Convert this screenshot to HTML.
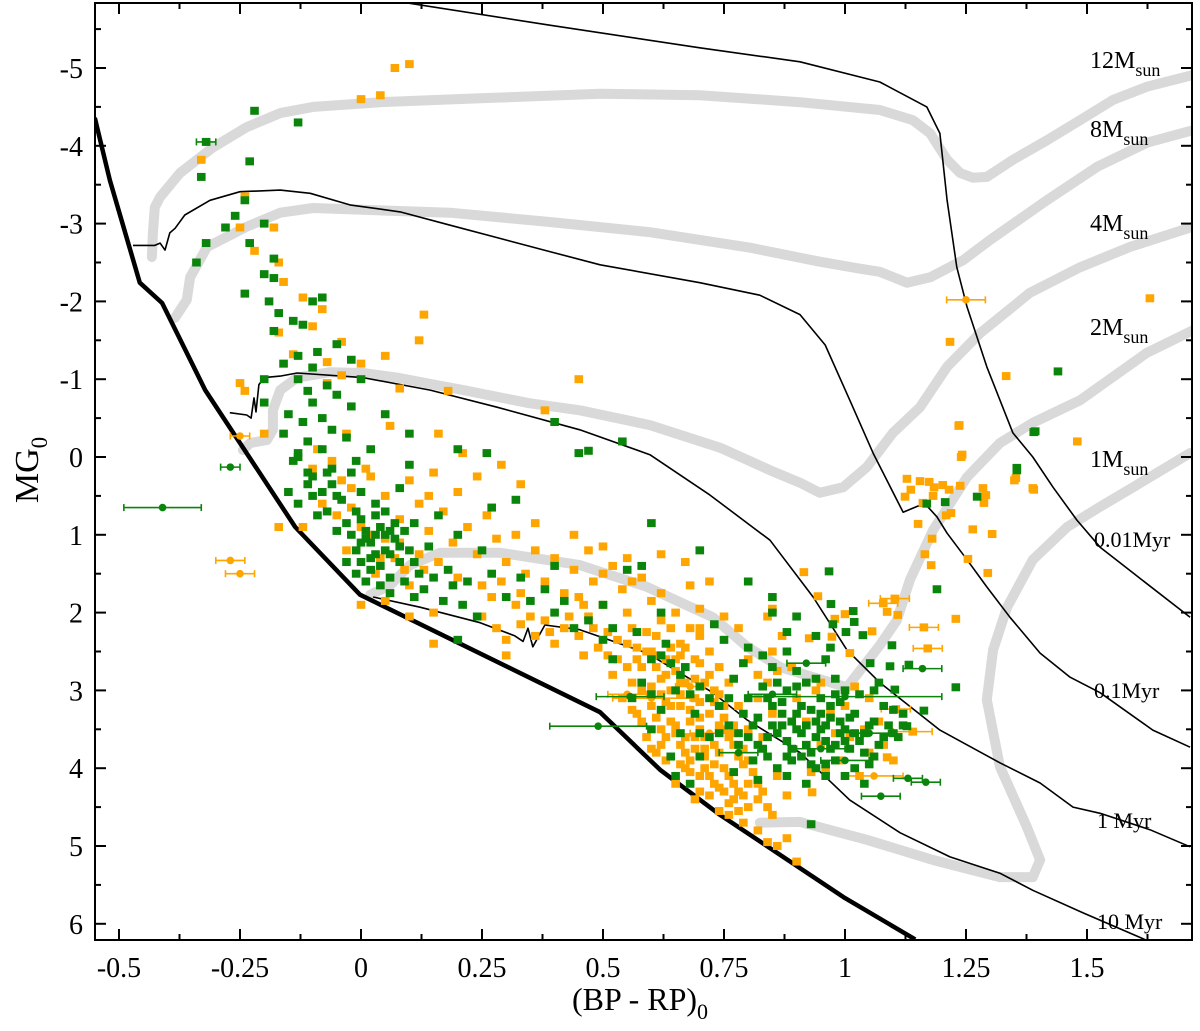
<!DOCTYPE html>
<html><head><meta charset="utf-8"><style>
html,body{margin:0;padding:0;background:#fff;}
svg{display:block;font-family:"Liberation Serif",serif;}
</style></head><body>
<svg id="chart" width="1200" height="1031" viewBox="0 0 1200 1031" xmlns="http://www.w3.org/2000/svg">
<defs><clipPath id="pc"><rect x="95" y="3" width="1097" height="937"/></clipPath></defs>
<g id="tracks" clip-path="url(#pc)"></g>
<g id="isos" clip-path="url(#pc)"></g>
<g id="pts" clip-path="url(#pc)"></g>
<g id="axes"></g>
<g id="labels" font-size="24">
<text x="1090" y="68">12M<tspan font-size="18" dy="8">sun</tspan></text>
<text x="1090" y="137">8M<tspan font-size="18" dy="8">sun</tspan></text>
<text x="1090" y="231">4M<tspan font-size="18" dy="8">sun</tspan></text>
<text x="1090" y="335">2M<tspan font-size="18" dy="8">sun</tspan></text>
<text x="1090" y="467">1M<tspan font-size="18" dy="8">sun</tspan></text>
<text x="1094" y="547" font-size="22">0.01Myr</text>
<text x="1094" y="698" font-size="22">0.1Myr</text>
<text x="1097" y="828" font-size="22">1 Myr</text>
<text x="1097" y="929" font-size="22">10 Myr</text>
</g>
<text x="640" y="1010" font-size="32" text-anchor="middle">(BP - RP)<tspan font-size="22" dy="9">0</tspan></text>
<text transform="translate(38,470) rotate(-90)" font-size="34" text-anchor="middle">MG<tspan font-size="23" dy="9">0</tspan></text>
</svg>
<script>
const xTicks=[-0.5,-0.25,0,0.25,0.5,0.75,1,1.25,1.5];
const xTickLabels=["-0.5","-0.25","0","0.25","0.5","0.75","1","1.25","1.5"];
const yTicks=[-5,-4,-3,-2,-1,0,1,2,3,4,5,6];
const yTickLabels=["-5","-4","-3","-2","-1","0","1","2","3","4","5","6"];
const zams=[[-0.55,-4.36],[-0.519,-3.56],[-0.457,-2.24],[-0.411,-1.98],[-0.322,-0.86],[-0.136,0.9],[-0.002,1.77],[0.494,3.28],[0.618,4.02],[0.742,4.6],[1.0,5.67],[1.145,6.2]];
const iso001=[[0.091,-5.84],[0.39,-5.55],[0.70,-5.26],[0.907,-5.08],[1.072,-4.82],[1.169,-4.5],[1.196,-4.16],[1.211,-3.3],[1.231,-2.44],[1.252,-1.93],[1.293,-1.16],[1.347,-0.31],[1.388,0],[1.43,0.39],[1.479,0.81],[1.527,1.16],[1.595,1.49],[1.713,2.06]];
const iso01=[[-0.471,-2.72],[-0.426,-2.72],[-0.415,-2.75],[-0.405,-2.66],[-0.395,-2.88],[-0.384,-2.94],[-0.364,-3.11],[-0.312,-3.3],[-0.25,-3.41],[-0.167,-3.43],[-0.105,-3.39],[-0.023,-3.24],[0.081,-3.15],[0.184,-2.98],[0.287,-2.81],[0.39,-2.64],[0.494,-2.47],[0.70,-2.24],[0.824,-2.08],[0.907,-1.83],[0.959,-1.44],[1.01,-0.73],[1.058,-0.05],[1.12,0.71],[1.151,0.63],[1.171,0.64],[1.19,0.77],[1.211,0.98],[1.252,1.32],[1.293,1.67],[1.341,2.06],[1.403,2.52],[1.465,2.83],[1.527,3.03],[1.636,3.51],[1.713,3.73]];
const iso1=[[-0.271,-0.57],[-0.236,-0.54],[-0.227,-0.5],[-0.221,-0.76],[-0.217,-0.58],[-0.211,-0.93],[-0.2,-1.02],[-0.167,-1.04],[-0.132,-1.08],[0.004,-1.02],[0.143,-0.86],[0.281,-0.64],[0.452,-0.35],[0.597,-0.03],[0.721,0.49],[0.845,1.07],[0.934,1.8],[1.004,2.48],[1.072,2.9],[1.196,3.51],[1.32,3.93],[1.403,4.19],[1.471,4.5],[1.527,4.58],[1.63,4.79],[1.713,5.01]];
const iso10=[[0.025,1.8],[0.122,1.93],[0.246,2.13],[0.318,2.3],[0.335,2.37],[0.345,2.2],[0.355,2.44],[0.38,2.16],[0.452,2.22],[0.591,2.52],[0.727,3.03],[0.798,3.38],[0.907,3.8],[1.01,4.41],[1.114,4.83],[1.217,5.14],[1.32,5.35],[1.388,5.57],[1.492,5.86],[1.63,6.23]];
const track12=[[-0.432,-2.57],[-0.43,-2.88],[-0.426,-3.21],[-0.415,-3.34],[-0.374,-3.65],[-0.306,-3.98],[-0.236,-4.24],[-0.167,-4.42],[-0.099,-4.5],[0.039,-4.56],[0.246,-4.61],[0.494,-4.67],[0.70,-4.65],[0.907,-4.56],[1.072,-4.46],[1.14,-4.33],[1.176,-4.16],[1.211,-3.82],[1.238,-3.65],[1.264,-3.59],[1.293,-3.6],[1.347,-3.82],[1.417,-4.07],[1.486,-4.33],[1.554,-4.59],[1.624,-4.76],[1.719,-4.91]];
const track8=[[-0.384,-1.79],[-0.36,-2.02],[-0.353,-2.31],[-0.318,-2.7],[-0.236,-2.96],[-0.167,-3.14],[-0.099,-3.2],[0.039,-3.17],[0.184,-3.14],[0.39,-3.02],[0.597,-2.89],[0.804,-2.69],[0.948,-2.51],[1.031,-2.42],[1.072,-2.38],[1.128,-2.24],[1.176,-2.31],[1.244,-2.53],[1.3,-2.79],[1.417,-3.3],[1.521,-3.73],[1.624,-4.04],[1.719,-4.2]];
const track4=[[-0.244,-0.09],[-0.229,-0.18],[-0.194,-0.22],[-0.182,-0.35],[-0.182,-0.6],[-0.167,-0.86],[-0.132,-1.02],[-0.064,-1.09],[0.004,-1.08],[0.074,-1.02],[0.211,-0.86],[0.349,-0.69],[0.452,-0.6],[0.597,-0.41],[0.742,-0.12],[0.845,0.17],[0.907,0.33],[0.948,0.46],[0.996,0.39],[1.045,0.13],[1.099,-0.31],[1.155,-0.64],[1.211,-1.16],[1.279,-1.59],[1.382,-2.11],[1.486,-2.44],[1.589,-2.7],[1.719,-2.96]];
const track2=[[0.019,1.77],[0.06,1.65],[0.101,1.39],[0.163,1.23],[0.287,1.23],[0.452,1.39],[0.591,1.67],[0.727,2.06],[0.798,2.44],[0.866,2.7],[0.934,2.83],[1.004,2.96],[1.072,2.42],[1.107,2.1],[1.134,1.58],[1.182,0.94],[1.252,0.26],[1.32,-0.18],[1.388,-0.44],[1.486,-0.73],[1.624,-1.34],[1.719,-1.63]];
const track1=[[0.824,4.7],[0.907,4.69],[1.045,4.92],[1.182,5.18],[1.32,5.4],[1.388,5.4],[1.403,5.18],[1.376,4.76],[1.32,3.98],[1.293,3.12],[1.306,2.48],[1.335,1.93],[1.388,1.32],[1.459,0.9],[1.527,0.64],[1.595,0.39],[1.713,-0.05]];
const orangeStars=[[0.07,-5.0],[0.1,-5.05],[0.0,-4.6],[0.04,-4.65],[-0.33,-3.82],[-0.24,-3.35],[-0.25,-2.95],[-0.22,-2.65],[-0.18,-2.95],[-0.17,-2.5],[-0.16,-2.25],[-0.12,-2.05],[-0.08,-1.9],[-0.1,-1.68],[-0.17,-1.6],[-0.04,-1.48],[0.13,-1.83],[0.12,-1.5],[-0.14,-1.32],[-0.07,-1.22],[0.0,-1.2],[0.05,-1.3],[-0.25,-0.95],[-0.24,-0.85],[-0.07,-0.95],[-0.04,-1.05],[0.08,-0.88],[0.18,-0.85],[0.38,-0.6],[0.45,-1.0],[1.63,-2.04],[1.217,-1.48],[1.333,-1.04],[1.235,-0.4],[1.48,-0.2],[1.24,0.0],[1.35,0.3],[1.39,0.42],
[1.128,0.28],[1.155,0.31],[1.174,0.32],[1.184,0.39],[1.202,0.36],[1.215,0.42],[1.238,0.37],[1.285,0.40],[1.291,0.49],[1.287,0.59],[1.136,0.42],[1.124,0.51],[1.182,0.50],[1.161,0.59],[1.209,0.75],[1.219,0.72],[1.151,0.86],[1.18,1.05],[1.165,1.25],[1.178,1.39],[1.264,0.93],[1.304,0.99],[1.254,1.31],[1.295,1.49],[1.353,0.27],[1.388,0.40],[1.236,-0.41],[1.242,-0.03],
[1.079,1.88],[1.103,1.82],[1.087,1.99],[1.109,2.03],[1.056,2.24],[1.163,2.19],[1.171,2.46],[1.229,2.08],[1.0,2.02],[0.979,2.08],[0.944,1.79],[0.915,1.48],[0.926,2.33],[0.973,2.31],[1.01,2.52],[1.105,3.24],[1.14,3.53],[1.087,3.86],[0.932,4.31],
[0.25,2.05],[0.28,2.2],[0.3,2.35],[0.33,2.15],[0.36,2.3],[0.38,2.1],[0.4,2.4],[0.42,2.2],[0.45,2.3],[0.47,2.05],[0.49,2.45],[0.51,2.25],[0.53,2.6],[0.55,2.4],[0.56,2.2],[0.58,2.7],[0.6,2.5],[0.61,2.3],[0.62,2.85],[0.63,2.6],[0.64,3.0],[0.65,2.75],[0.66,3.2],[0.67,2.9],[0.68,3.4],[0.69,3.1],[0.7,2.65],[0.71,3.6],[0.72,3.3],[0.73,3.0],[0.74,3.8],[0.75,3.5],[0.76,4.1],[0.77,3.7],[0.78,4.3],[0.79,3.95],[0.8,4.5],[0.6,3.2],[0.62,3.5],[0.64,3.4],[0.66,3.7],[0.68,3.9],[0.7,4.1],[0.72,4.35],[0.74,4.55],[0.76,4.6],[0.58,3.0],[0.56,2.9],[0.54,3.1],[0.52,2.8],[0.57,3.3],[0.59,3.6],[0.61,3.8],[0.63,3.9],[0.65,4.2],[0.67,4.0],[0.69,4.4],[0.71,3.85],[0.73,4.2],[0.75,4.0],[0.77,4.4],[0.79,4.7],[0.82,4.8],[0.84,4.95],[0.86,5.0],[0.88,4.9],[0.9,5.2],[0.82,4.2],[0.84,4.5],[0.86,4.1],[0.88,4.35],[0.83,3.6],[0.85,3.3],[0.8,3.5],[0.78,3.2],[0.76,2.9],[0.74,2.7],[0.72,2.5],[0.7,2.3],[0.68,2.2],[0.66,2.4],[0.64,2.2],[0.62,2.1],[0.8,2.6],[0.82,2.8],[0.85,2.5],[0.87,2.3],[0.89,2.7],[0.9,3.1],[0.92,3.4],[0.94,3.0],[0.95,3.7],[0.97,3.3],[0.99,3.9],[1.01,3.6],[1.03,4.1],[1.05,3.8],[1.07,3.4],[0.93,4.05],[0.96,4.0],[0.98,3.55],[1.0,3.2],[1.02,2.95],[1.04,3.5],[0.55,2.0],[0.5,1.9],[0.45,1.8],[0.6,1.85],[0.65,2.0],[0.7,1.95],[0.75,2.05],[0.72,1.6],[0.68,1.65],[0.62,1.75],[0.58,1.55],[0.5,1.5],[0.55,1.3],[0.62,1.25],[0.67,1.35],[0.7,2.2],[0.78,2.2],[0.84,2.05],[0.85,1.95],
[0.63,3.15],[0.65,3.45],[0.67,3.6],[0.69,3.75],[0.71,4.0],[0.73,3.7],[0.61,2.7],[0.59,2.5],[0.57,2.6],[0.66,2.55],[0.69,2.85],[0.72,2.8],[0.75,3.2],[0.77,3.45],[0.8,3.9],[0.82,4.4],[0.75,4.3],[0.7,3.5],
[0.6,2.95],[0.62,3.05],[0.64,3.2],[0.66,3.05],[0.68,3.25],[0.7,3.15],[0.61,3.35],[0.63,3.6],[0.65,3.55],[0.67,3.8],[0.69,3.6],[0.71,3.75],[0.73,3.95],[0.72,4.1],[0.74,4.25],[0.76,4.45],[0.78,4.55],[0.7,4.3],[0.68,4.05],[0.66,3.95],[0.62,3.7],[0.6,3.75],[0.58,3.4],[0.56,3.25],[0.55,2.7],[0.57,2.45],[0.59,2.25],[0.61,2.55],[0.63,2.8],[0.65,2.6],[0.67,2.45],[0.69,2.6],[0.71,2.9],[0.73,3.15],[0.75,3.35],[0.77,3.55],[0.79,3.75],[0.81,4.05],[0.83,4.3],[0.85,4.6],[0.77,4.2],[0.79,4.35],[0.74,3.05],[0.76,3.6],[0.78,3.85],[0.8,4.2],[0.64,2.45],[0.53,2.35],[0.51,2.55],[0.48,2.2],[0.43,2.05],[0.39,2.25],[0.35,2.05],[0.32,1.9],[0.27,1.8],[0.46,2.55],[0.66,2.9],[0.7,3.35],[0.74,3.45],[0.82,3.1],[0.84,2.9],[0.86,2.75],[0.95,2.9],[1.05,3.1],[1.08,3.7],[1.1,3.9],
[0.02,0.25],[0.05,0.5],[0.08,0.8],[0.1,0.3],[0.12,0.6],[0.14,0.95],[0.15,0.2],[0.17,0.7],[0.19,1.1],[0.2,0.45],[0.22,0.9],[0.24,1.25],[0.26,0.75],[0.28,1.05],[0.3,1.35],[0.32,1.0],[0.34,1.5],[0.36,1.2],[0.38,1.6],[0.4,1.3],[0.42,1.75],[0.44,1.45],[0.46,1.9],[0.48,1.6],[0.36,0.85],[0.44,1.0],[0.5,1.15],[0.52,1.4],[0.33,0.35],[0.29,0.1],[0.24,0.25],[0.54,1.7],[0.56,1.6],[0.47,1.2],[0.05,1.05],[0.0,0.9],[-0.03,1.2],[0.03,1.5],[0.07,1.3],[0.1,1.65],[0.13,1.45],[-0.05,0.75],[-0.08,0.6],[-0.12,0.9],[-0.02,0.4],[0.01,0.15],[-0.06,0.05],[-0.09,-0.1],[-0.03,-0.3],[0.06,-0.4],[0.16,-0.3],[0.21,-0.05],[0.0,1.9],[0.05,1.85],[0.1,2.05],[0.15,2.0],[0.3,2.55],[0.15,2.4],[-0.17,0.9],[-0.2,-0.3],
[0.04,1.3],[0.02,1.0],[-0.02,0.65],[0.08,1.1],[0.12,1.25],[0.16,1.35],[0.2,1.55],[0.25,1.65],[0.29,1.6],[0.33,1.75],[0.09,1.45],[-0.04,0.3],[-0.1,0.15],[0.14,0.5]];
const orangeErrStars=[[-0.27,1.33,0.03],[-0.25,1.5,0.03],[-0.25,-0.27,0.02],[1.25,-2.02,0.04],[1.079,1.88,0.03],[1.103,1.82,0.03],[1.171,2.46,0.03],[1.163,2.19,0.03],[1.14,3.53,0.04],[1.105,3.24,0.03],[1.06,4.1,0.06],[0.6,3.1,0.08],[0.55,3.05,0.04],[0.72,3.55,0.04],[0.68,2.95,0.03]];
const greenStars=[[-0.22,-4.45],[-0.13,-4.3],[-0.32,-4.05],[-0.33,-3.6],[-0.23,-3.8],[-0.24,-3.3],[-0.26,-3.1],[-0.28,-2.95],[-0.2,-3.0],[-0.32,-2.75],[-0.23,-2.75],[-0.34,-2.5],[-0.18,-2.55],[-0.2,-2.35],[-0.24,-2.1],[-0.18,-2.3],[-0.19,-2.0],[-0.17,-1.85],[-0.08,-2.05],[-0.1,-2.0],[-0.14,-1.75],[-0.12,-1.7],[-0.18,-1.62],[-0.05,-1.45],[-0.09,-1.35],[-0.13,-1.3],[-0.1,-1.15],[-0.16,-1.2],[-0.02,-1.25],[0.0,-1.0],[-0.2,-1.0],[-0.13,-1.0],[-0.07,-0.92],[-0.11,-0.85],[-0.2,-0.7],[-0.1,-0.7],[-0.05,-0.8],[-0.02,-0.65],[-0.15,-0.55],[-0.08,-0.5],[-0.12,-0.45],[0.05,-0.55],[-0.06,-0.35],[-0.16,-0.3],[-0.11,-0.2],[-0.03,-0.25],[0.1,-0.3],[-0.08,-0.1],[0.02,-0.1],[-0.14,0.05],[-0.11,0.2],[-0.06,0.15],[-0.01,0.05],[-0.13,-0.05],[0.26,-0.05],[0.47,-0.08],[0.54,-0.2],[0.4,-0.45],
[1.393,-0.33],[1.355,0.14],[1.273,0.51],[1.207,0.58],[1.169,0.6],[1.19,1.7],[0.967,1.47],[0.971,1.89],[1.44,-1.1],[1.39,-0.32],[1.355,0.17],
[1.017,1.98],[1.019,2.12],[0.975,2.15],[1.002,2.25],[1.037,2.29],[1.097,2.42],[1.229,2.96],[1.163,3.26],[1.128,3.46],[0.93,4.72],[1.052,2.65],[1.093,2.69],[1.132,2.67],[1.103,2.99],
[0.0,0.8],[0.01,0.95],[0.02,1.1],[0.03,1.25],[0.0,1.35],[-0.02,1.0],[-0.03,0.85],[0.04,0.9],[0.05,1.2],[0.02,1.45],[0.06,1.55],[0.04,1.65],[-0.01,1.2],[0.08,1.35],[0.07,1.05],[0.09,1.6],[0.1,1.2],[0.12,1.5],[0.11,1.8],[0.03,0.6],[-0.04,0.55],[-0.06,0.35],[-0.02,0.2],[0.0,0.45],[0.05,0.7],[-0.08,0.45],[-0.1,0.5],[-0.13,0.6],[-0.15,0.45],[-0.07,0.7],[-0.05,0.95],[0.08,0.4],[0.11,0.85],[0.14,1.15],[0.16,0.75],[0.18,1.45],[0.2,1.0],[0.22,1.6],[0.25,1.2],[0.27,1.5],[0.3,1.8],[0.33,1.55],[0.35,1.85],[0.38,1.7],[0.4,2.0],[0.42,1.85],[0.44,2.2],[0.47,2.1],[0.5,1.9],[0.52,2.2],[0.55,1.45],[0.58,1.4],[0.62,2.0],[0.32,0.55],[0.4,1.4],[0.2,-0.1],[0.1,0.1],[0.27,0.65],[0.45,-0.05],[0.6,0.85],[0.7,1.2],[0.8,1.6],[0.85,2.0],[0.24,2.05],[0.2,2.35],[-0.1,0.25],[-0.13,0.0],[0.01,1.05],[0.03,1.0],[-0.01,1.5],[0.06,0.95],[0.08,1.15],
[0.0,1.1],[0.02,1.3],[0.04,1.4],[0.06,1.25],[0.01,1.6],[-0.03,1.35],[0.03,0.75],[0.07,0.85],[-0.01,0.7],[0.05,1.0],[0.09,0.95],[0.11,1.35],[0.13,1.7],[0.15,1.55],[0.17,1.85],[0.19,1.65],[0.21,1.9],[0.06,1.75],[-0.05,0.5],[-0.09,0.75],[-0.11,0.35],[-0.07,0.2],
[0.6,2.6],[0.63,2.4],[0.65,3.0],[0.67,2.7],[0.69,3.3],[0.7,2.95],[0.72,3.6],[0.74,3.2],[0.76,3.45],[0.77,2.85],[0.78,3.7],[0.8,3.1],[0.81,3.9],[0.82,3.35],[0.83,2.95],[0.84,3.6],[0.85,3.2],[0.86,4.0],[0.87,3.45],[0.88,3.0],[0.89,3.75],[0.9,3.3],[0.91,3.55],[0.92,2.9],[0.93,3.8],[0.94,3.4],[0.95,3.1],[0.96,3.65],[0.97,3.35],[0.98,3.9],[0.99,3.15],[1.0,3.5],[1.01,3.75],[1.02,3.3],[1.03,3.05],[1.04,3.55],[1.05,3.95],[1.06,3.4],[1.07,2.9],[1.08,3.6],[1.1,3.25],[1.12,3.45],[0.85,2.7],[0.88,2.5],[0.9,2.75],[0.8,2.45],[0.75,2.35],[0.73,2.15],[0.66,3.55],[0.62,3.25],[0.6,3.5],[0.58,2.9],[0.56,3.1],[0.7,3.85],[0.77,4.05],[0.82,4.15],[0.88,4.1],[0.92,4.2],[0.96,3.95],[1.0,4.1],[1.04,4.2],[0.68,4.2],[0.65,4.1],[0.88,2.25],[0.9,2.05],[0.85,1.8],[0.94,2.3],[0.96,2.6],[0.98,2.85],[0.97,2.45],[1.06,3.0],[0.57,2.25],[0.52,2.6],[0.5,2.35],[0.6,3.05],[0.64,3.85],[0.79,2.65],[0.83,2.55],
[0.86,3.55],[0.88,3.65],[0.9,3.5],[0.92,3.7],[0.94,3.6],[0.96,3.45],[0.98,3.7],[1.0,3.65],[0.87,3.3],[0.91,3.2],[0.95,3.3],[0.99,3.4],[1.02,3.55],[1.04,3.8],[0.89,3.9],[0.93,3.95],[0.84,3.85],[0.78,3.55],[0.81,3.45],
[0.85,3.45],[0.87,3.15],[0.89,3.4],[0.91,3.85],[0.93,3.25],[0.95,3.5],[0.97,3.75],[0.99,3.55],[1.01,3.35],[1.03,3.65],[1.05,3.45],[1.07,3.7],[1.09,3.45],[1.11,3.6],[1.0,3.0],[0.98,3.05],[0.94,2.85],[0.9,2.95],[0.86,2.9],[0.84,3.1],[0.82,3.7],[0.8,3.6],[0.79,3.3],[0.76,3.1],[0.74,3.55],[0.72,3.1],[0.7,3.55],[0.68,3.05],[0.66,2.8],[0.64,2.65],[0.62,2.55],[0.96,4.1],[0.94,4.0],[1.02,4.0],[1.06,3.85],[1.08,3.2],[1.1,3.55],[1.12,3.3],[0.97,3.2],[0.92,3.45],[0.88,3.85],[0.83,3.75]];
const greenErrStars=[[-0.41,0.65,0.08],[-0.27,0.13,0.02],[-0.32,-4.05,0.02],[0.49,3.46,0.1],[0.556,3.08,0.07],[1.074,4.36,0.04],[1.13,4.13,0.03],[1.167,4.18,0.03],[1.0,3.08,0.2],[1.16,2.72,0.04],[0.92,2.65,0.04],[0.95,3.75,0.05],[1.0,3.9,0.05],[0.85,3.05,0.05],[1.05,3.55,0.04],[0.78,3.8,0.04]];

const X0=361,XS=484,Y0=457,YS=77.8;
function sx(v){return X0+XS*v;}
function sy(v){return Y0+YS*v;}
const NS="http://www.w3.org/2000/svg";
function mk(tag,attrs,parent){const e=document.createElementNS(NS,tag);for(const k in attrs)e.setAttribute(k,attrs[k]);parent.appendChild(e);return e;}
function pathD(arr){return arr.map((p,i)=>(i?'L':'M')+sx(p[0]).toFixed(1)+' '+sy(p[1]).toFixed(1)).join(' ');}

const gT=document.getElementById('tracks');
const trackList=[[track12,'track-12msun'],[track8,'track-8msun'],[track4,'track-4msun'],[track2,'track-2msun'],[track1,'track-1msun']];
trackList.forEach(t=>{
  const p=mk('path',{d:pathD(t[0]),fill:'none',stroke:'#d9d9d9','stroke-width':10,'stroke-linejoin':'round','stroke-linecap':'round'},gT);
  
  
});
const gI=document.getElementById('isos');
const isoList=[[iso001,'isochrone-0.01myr'],[iso01,'isochrone-0.1myr'],[iso1,'isochrone-1myr'],[iso10,'isochrone-10myr']];
isoList.forEach(t=>{
  const p=mk('path',{d:pathD(t[0]),fill:'none',stroke:'#000','stroke-width':1.6,'stroke-linejoin':'round'},gI);
  
  
});
const zp=mk('path',{d:pathD(zams),fill:'none',stroke:'#000','stroke-width':4.5,'stroke-linejoin':'round'},gI);



const gP=document.getElementById('pts');
function drawStars(list,color,name){
  list.forEach(p=>{
    const r=mk('rect',{x:sx(p[0])-4.3,y:sy(p[1])-4,width:8.6,height:8,fill:color},gP);
    
    
  });
}
function drawErr(list,color,name){
  list.forEach(p=>{
    const cx=sx(p[0]),cy=sy(p[1]),dx=XS*p[2];
    const g=mk('g',{stroke:color,'stroke-width':1.6},gP);
    
    
    mk('line',{x1:cx-dx,y1:cy,x2:cx+dx,y2:cy},g);
    mk('line',{x1:cx-dx,y1:cy-3.5,x2:cx-dx,y2:cy+3.5},g);
    mk('line',{x1:cx+dx,y1:cy-3.5,x2:cx+dx,y2:cy+3.5},g);
    mk('circle',{cx:cx,cy:cy,r:3.8,fill:color,stroke:'none'},g);
  });
}
drawStars(orangeStars,'#ffa500','orange-star');
drawErr(orangeErrStars,'#ffa500','orange-star-errorbar');
drawStars(greenStars,'#0a840a','green-star');
drawErr(greenErrStars,'#0a840a','green-star-errorbar');

const gA=document.getElementById('axes');
const frame=mk('rect',{x:95,y:3,width:1097,height:937,fill:'none',stroke:'#000','stroke-width':2},gA);


for(let v=-0.5;v<=1.626;v+=0.125){
  const major=Math.abs(v*4-Math.round(v*4))<1e-6;const L=major?11:6;const x=sx(v);
  mk('line',{x1:x,y1:940,x2:x,y2:940-L,stroke:'#000','stroke-width':2},gA);
  mk('line',{x1:x,y1:3,x2:x,y2:3+L,stroke:'#000','stroke-width':2},gA);
}
for(let v=-5.5;v<=6.01;v+=0.5){
  const major=Math.abs(v-Math.round(v))<1e-6;const L=major?11:6;const y=sy(v);
  mk('line',{x1:95,y1:y,x2:95+L,y2:y,stroke:'#000','stroke-width':2},gA);
  mk('line',{x1:1192,y1:y,x2:1192-L,y2:y,stroke:'#000','stroke-width':2},gA);
}
xTicks.forEach((v,i)=>{
  const t=mk('text',{x:sx(v),y:977,'font-size':28,'text-anchor':'middle'},gA);
  t.textContent=xTickLabels[i];
  
  
});
yTicks.forEach((v,i)=>{
  const t=mk('text',{x:83,y:sy(v)+10,'font-size':28,'text-anchor':'end'},gA);
  t.textContent=yTickLabels[i];
  
  
});
</script>
</body></html>
